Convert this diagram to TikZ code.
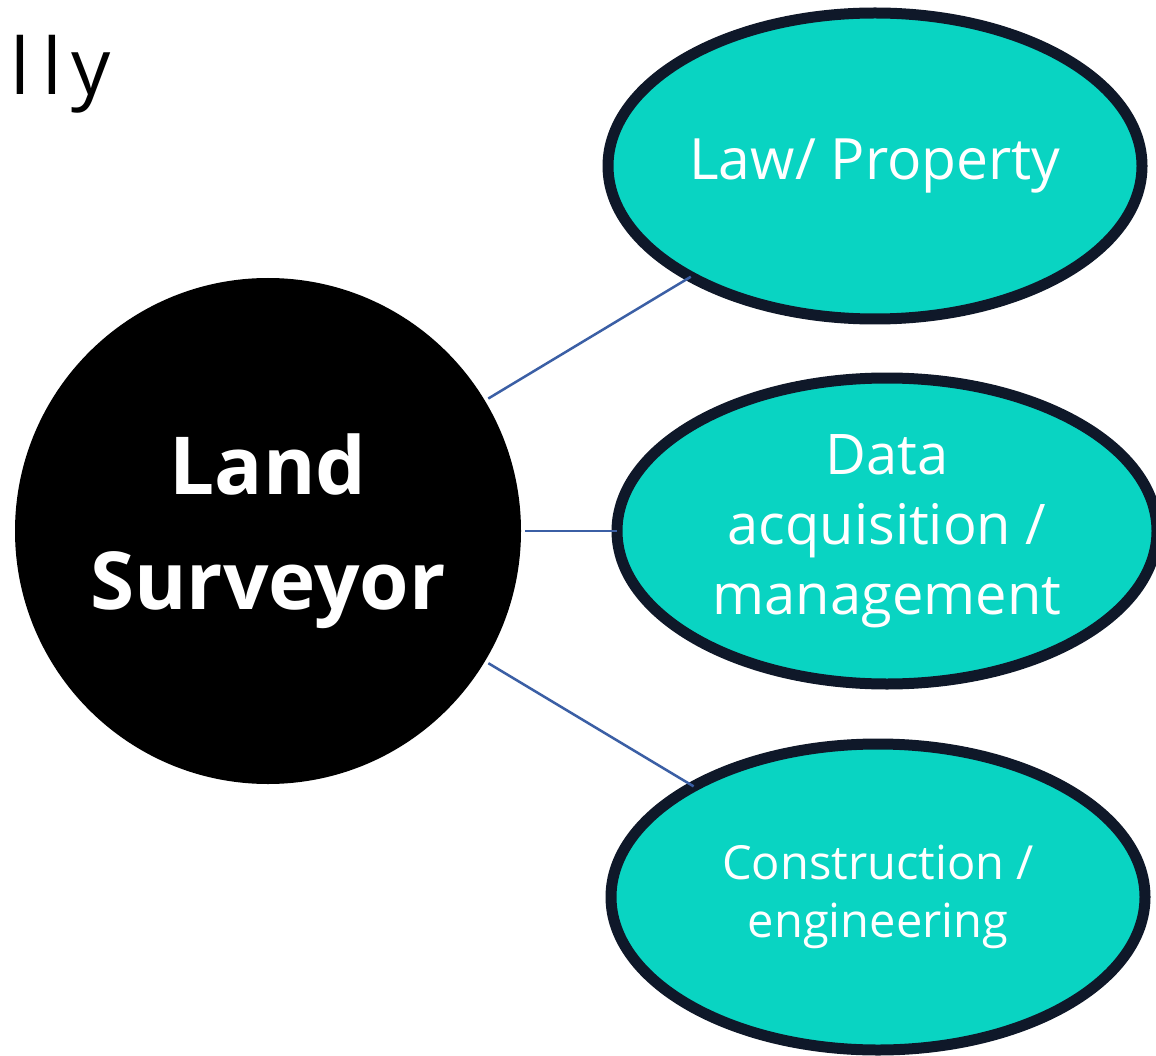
\documentclass[tikz,border=0pt]{standalone}
\usepackage{fontspec}
\setmainfont{Open Sans}
\usetikzlibrary{shapes.geometric}
\definecolor{tealfill}{HTML}{09D4C2}
\definecolor{navyline}{HTML}{0F1829}
\definecolor{linkblue}{HTML}{3B5FA5}
\begin{document}
\begin{tikzpicture}[x=1pt, y=-1pt,
    hub/.style={circle, fill=black,
        minimum size=506pt, inner sep=0pt, outer sep=4pt,
        text=white, align=center,
        font=\bfseries\fontsize{80}{115}\selectfont},
    topic/.style={ellipse, fill=tealfill, draw=navyline,
        line width=11pt, minimum width=534pt, minimum height=306pt,
        inner sep=0pt, outer sep=0pt,
        text=white, align=center,
        font=\fontsize{56}{70}\selectfont},
    link/.style={draw=linkblue, line width=2.5pt}
    ]
    \useasboundingbox (0,0) rectangle (1156,1056);
    \node[anchor=base west, font=\fontsize{78}{80}\selectfont] (title) at (7,95) {l\kern12pt l\kern10pt y};
    \node[hub] (surveyor) at (268,531) {Land\\Surveyor};
    \node[topic, font=\fontsize{57}{70}\selectfont] (law) at (875,166) {Law/ Property};
    \node[topic, minimum width=540pt] (data) at (887,531) {Data\\acquisition /\\management};
    \node[topic, font=\fontsize{47}{58}\selectfont] (constr) at (878,897) {Construction /\\engineering};
    \draw[link] (surveyor) -- (law);
    \draw[link] (surveyor) -- (data);
    \draw[link] (surveyor) -- (constr);
\end{tikzpicture}
\end{document}
